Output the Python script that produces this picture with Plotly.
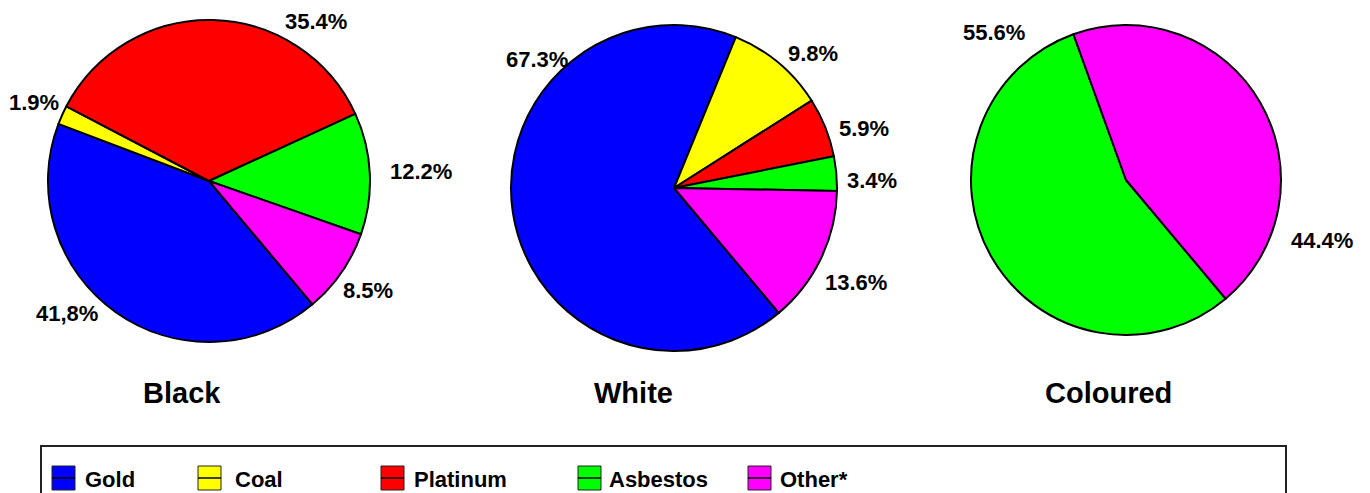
import math
import plotly.graph_objects as go

# ---- data -------------------------------------------------------------
categories = ["Gold", "Coal", "Platinum", "Asbestos", "Other*"]
colors = ["#0000FF", "#FFFF00", "#FF0000", "#00FF00", "#FF00FF"]

groups = ["Black", "White", "Coloured"]
black_values = [41.8, 1.9, 35.4, 12.2, 8.5]
white_values = [67.3, 9.8, 5.9, 3.4, 13.6]
coloured_values = [0.0, 0.0, 0.0, 55.6, 44.4]

# decimal separator used on each printed percentage
black_decimal = [",", ".", ".", ".", "."]
white_decimal = [".", ".", ".", ".", "."]
coloured_decimal = [".", ".", ".", ".", "."]

# ---- layout settings ---------------------------------------------------
W, H = 1370, 493
ROTATION = 140
FONT = "Liberation Sans, Arial, Helvetica, sans-serif"

# pie centre / radius in pixels, title centre
pie_geom = {
    "Black": dict(cx=209, cy=181, r=161, tx=182),
    "White": dict(cx=674, cy=188, r=163, tx=633),
    "Coloured": dict(cx=1126, cy=180, r=155, tx=1108),
}
TITLE_Y = 393

# label placement: angle (deg, None = slice middle) and distance from centre (px)
label_angle = {
    "Black": [-137, None, 56, None, None],
    "White": [137, 44, 17.5, 2.3, -27.3],
    "Coloured": [None, None, None, 132, -17.3],
}
label_dist = {
    "Black": [194, 192, 192, 212, 193],
    "White": [188, 193, 199, 198, 205],
    "Coloured": [0, 0, 0, 198, 205],
}

legend_swatch_x = [52, 198, 381, 578, 748]
legend_text_x = [83, 233, 412, 607, 778]
LEG_TOP, LEG_BOTTOM = 466, 490

values_by_group = {"Black": black_values, "White": white_values, "Coloured": coloured_values}
decimal_by_group = {"Black": black_decimal, "White": white_decimal, "Coloured": coloured_decimal}


def px_x(x):
    return x / W


def px_y(y):
    return 1 - y / H


fig = go.Figure()
annotations = []
shapes = []

for g in groups:
    vals = values_by_group[g]
    geo = pie_geom[g]
    idx = [i for i, v in enumerate(vals) if v > 0]
    cx, cy, r = geo["cx"], geo["cy"], geo["r"]

    fig.add_trace(go.Pie(
        labels=[categories[i] for i in idx],
        values=[vals[i] for i in idx],
        marker=dict(colors=[colors[i] for i in idx], line=dict(color="black", width=2)),
        sort=False,
        direction="clockwise",
        rotation=ROTATION,
        textinfo="none",
        hoverinfo="label+percent",
        showlegend=False,
        domain=dict(x=[px_x(cx - r), px_x(cx + r)], y=[px_y(cy + r), px_y(cy - r)]),
    ))

    # value labels around the pie
    total = sum(vals)
    start = 90 - ROTATION
    cum = 0.0
    for i, v in enumerate(vals):
        if v <= 0:
            continue
        mid = start - 360.0 * (cum + v / 2) / total
        cum += v
        ang = label_angle[g][i] if label_angle[g][i] is not None else mid
        d = label_dist[g][i]
        lx = cx + d * math.cos(math.radians(ang))
        ly = cy - d * math.sin(math.radians(ang))
        text = f"{v:.1f}%".replace(".", decimal_by_group[g][i])
        annotations.append(dict(
            x=px_x(lx), y=px_y(ly), xref="paper", yref="paper",
            text=f"<b>{text}</b>", showarrow=False,
            xanchor="center", yanchor="middle",
            font=dict(family=FONT, size=22, color="black"),
        ))

    # group title
    annotations.append(dict(
        x=px_x(geo["tx"]), y=px_y(TITLE_Y), xref="paper", yref="paper",
        text=f"<b>{g}</b>", showarrow=False,
        xanchor="center", yanchor="middle",
        font=dict(family=FONT, size=29, color="black"),
    ))

# ---- legend box --------------------------------------------------------
shapes.append(dict(
    type="rect", xref="paper", yref="paper",
    x0=px_x(41), x1=px_x(1286), y0=px_y(446), y1=px_y(505),
    line=dict(color="#222222", width=2), fillcolor="rgba(0,0,0,0)",
))
for i, cat in enumerate(categories):
    sx = legend_swatch_x[i]
    shapes.append(dict(
        type="rect", xref="paper", yref="paper",
        x0=px_x(sx), x1=px_x(sx + 23), y0=px_y(LEG_BOTTOM), y1=px_y(LEG_TOP),
        line=dict(color="#222222", width=1), fillcolor=colors[i],
    ))
    mid_y = (LEG_TOP + LEG_BOTTOM) / 2
    shapes.append(dict(
        type="line", xref="paper", yref="paper",
        x0=px_x(sx), x1=px_x(sx + 23), y0=px_y(mid_y), y1=px_y(mid_y),
        line=dict(color="black", width=1.5),
    ))
    annotations.append(dict(
        x=px_x(legend_text_x[i]), y=px_y(mid_y + 1), xref="paper", yref="paper",
        text=f"<b>{cat}</b>", showarrow=False,
        xanchor="left", yanchor="middle",
        font=dict(family=FONT, size=22, color="black"),
    ))

fig.update_layout(
    width=W, height=H,
    margin=dict(l=0, r=0, t=0, b=0),
    paper_bgcolor="white", plot_bgcolor="white",
    annotations=annotations,
    shapes=shapes,
    showlegend=False,
)

fig.write_html("out.html")
